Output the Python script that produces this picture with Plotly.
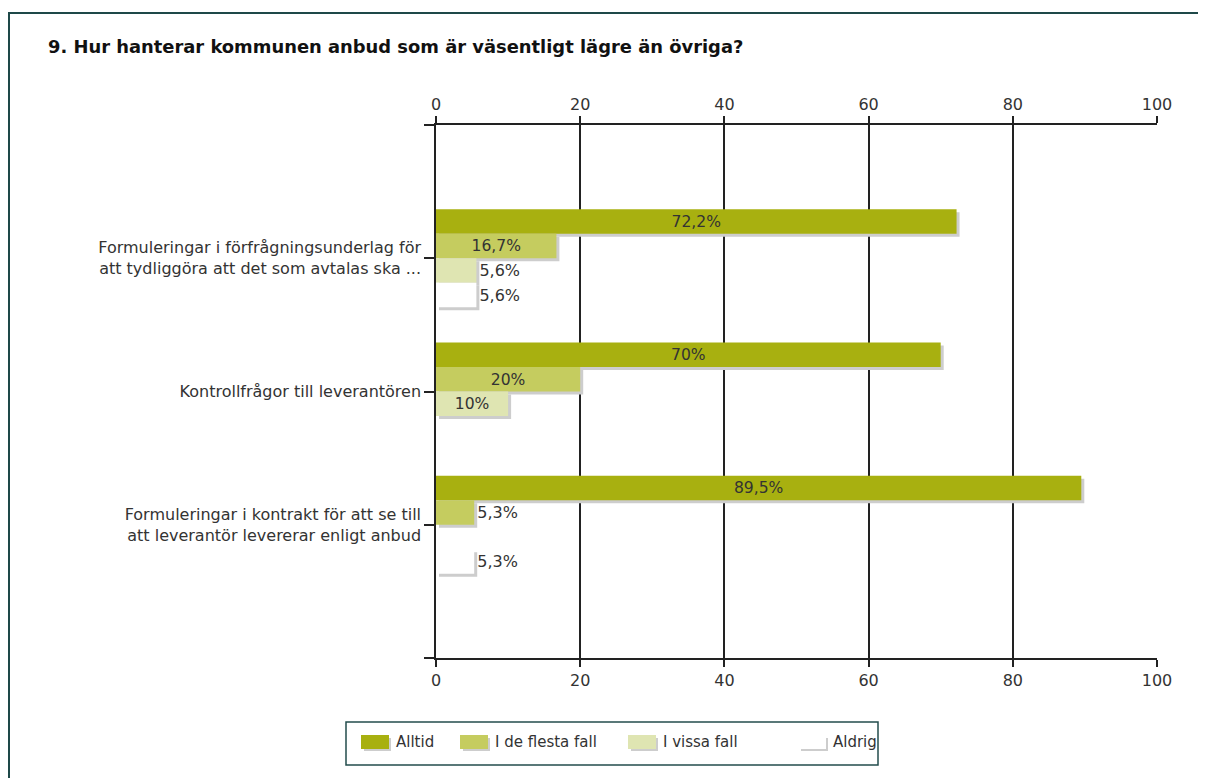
import plotly.graph_objects as go

# ---------------- data ----------------
categories = [
    "Formuleringar i förfrågningsunderlag för<br>att tydliggöra att det som avtalas ska ...",
    "Kontrollfrågor till leverantören",
    "Formuleringar i kontrakt för att se till<br>att leverantör levererar enligt anbud",
]
series_names = ["Alltid", "I de flesta fall", "I vissa fall", "Aldrig"]
alltid = [72.2, 70, 89.5]
de_flesta_fall = [16.7, 20, 5.3]
vissa_fall = [5.6, 10, 0]
aldrig = [5.6, 0, 5.3]
x_ticks = [0, 20, 40, 60, 80, 100]
title_text = "9. Hur hanterar kommunen anbud som är väsentligt lägre än övriga?"

series_values = [alltid, de_flesta_fall, vissa_fall, aldrig]
colors = ["#a8b010", "#c5cc5f", "#dfe5b2", "#ffffff"]
shadow_color = "#cdcdcd"

# ---------------- geometry (reference pixels) ----------------
OFF = 8                      # page body margin of the browser
W_REF, H_REF = 1206, 778
W, H = W_REF - OFF, H_REF - OFF
PL, PR, PT, PB = 436, 1157, 125, 658
FONT = "DejaVu Sans"
FS = 16
TXT = "#333333"
AX = "#222222"

def px_x(p):
    return (p - PL) / (PR - PL)

def px_y(p):
    return (PB - p) / (PB - PT)

n_cat = len(categories)
positions = list(range(n_cat))
y_span = n_cat + 1  # range [-1, n_cat]
unit_px = (PB - PT) / y_span
bar_w = 24.5 / unit_px
x_unit_px = (PR - PL) / (x_ticks[-1] - x_ticks[0])
sh_dx = 3 / x_unit_px
sh_dy = 3 / unit_px

def fmt(v):
    if v == 0:
        return ""
    return ("%g" % v).replace(".", ",") + "%"

fig = go.Figure()

# shadows first (base x axis, drawn below)
for i, vals in enumerate(series_values):
    fig.add_trace(go.Bar(
        orientation="h", y=positions, x=vals, base=sh_dx,
        width=bar_w, offset=(i - 2) * bar_w + sh_dy,
        marker=dict(color=shadow_color, line=dict(width=0)),
        hoverinfo="skip", showlegend=False, xaxis="x", yaxis="y",
    ))

# bars (overlaying bottom x axis, drawn above)
for i, (name, vals) in enumerate(zip(series_names, series_values)):
    fig.add_trace(go.Bar(
        orientation="h", y=positions, x=vals, name=name,
        width=bar_w, offset=(i - 2) * bar_w,
        marker=dict(color=colors[i], line=dict(width=0)),
        text=[fmt(v) for v in vals],
        textposition=["inside" if v >= 10 else "outside" for v in vals],
        insidetextanchor="middle",
        textfont=dict(family=FONT, size=FS, color=TXT),
        cliponaxis=False, showlegend=False, xaxis="x2", yaxis="y",
    ))

# ---------------- manual legend ----------------
shapes = []
annotations = []
shapes.append(dict(type="rect", xref="paper", yref="paper",
                   x0=px_x(346), x1=px_x(878), y0=px_y(722), y1=px_y(765),
                   line=dict(color="#234c4c", width=1.5), fillcolor="white", layer="below"))
leg_x = [361, 460, 628, 798]
for i, name in enumerate(series_names):
    x0 = leg_x[i]
    shapes.append(dict(type="rect", xref="paper", yref="paper",
                       x0=px_x(x0 + 3), x1=px_x(x0 + 30), y0=px_y(738), y1=px_y(751),
                       line=dict(width=0), fillcolor=shadow_color))
    shapes.append(dict(type="rect", xref="paper", yref="paper",
                       x0=px_x(x0), x1=px_x(x0 + 28), y0=px_y(735), y1=px_y(749),
                       line=dict(width=0), fillcolor=colors[i]))
    annotations.append(dict(xref="paper", yref="paper", x=px_x(x0 + 33), y=px_y(742),
                            xanchor="left", yanchor="middle", text=name, showarrow=False,
                            font=dict(family=FONT, size=15, color=TXT)))

# outer frame
shapes.append(dict(type="rect", xref="paper", yref="paper",
                   x0=px_x(9), x1=px_x(1240), y0=px_y(13), y1=px_y(820),
                   line=dict(color="#1e4848", width=2), layer="below"))

axis_common = dict(
    range=[x_ticks[0], x_ticks[-1]], tickvals=x_ticks, ticks="outside", ticklen=7,
    tickcolor=AX, tickwidth=1.5, showline=True, linecolor=AX, linewidth=1.5,
    zeroline=False, tickfont=dict(family=FONT, size=FS, color=TXT), fixedrange=True,
)

fig.update_layout(
    width=W, height=H,
    margin=dict(l=PL - OFF, r=W_REF - PR, t=PT - OFF, b=H_REF - PB),
    paper_bgcolor="white", plot_bgcolor="white",
    barmode="overlay",
    title=dict(text="<b>" + title_text + "</b>", x=(48 - OFF) / W, y=1 - (47 - OFF) / H,
               xanchor="left", yanchor="middle", xref="container", yref="container",
               font=dict(family=FONT, size=17.9, color="#111111")),
    xaxis=dict(side="top", showgrid=True, gridcolor=AX, gridwidth=1.5, **axis_common),
    xaxis2=dict(side="bottom", overlaying="x", anchor="y", showgrid=False, **axis_common),
    yaxis=dict(range=[n_cat, -1], tickvals=[-1] + positions + [n_cat],
               ticktext=[""] + categories + [""], ticks="outside", ticklen=10,
               tickcolor=AX, tickwidth=1.5, showline=True, linecolor=AX, linewidth=1.5,
               showgrid=False, zeroline=False, fixedrange=True,
               tickfont=dict(family=FONT, size=FS, color=TXT)),
    shapes=shapes, annotations=annotations,
    showlegend=False,
)

fig.write_html("out.html")
